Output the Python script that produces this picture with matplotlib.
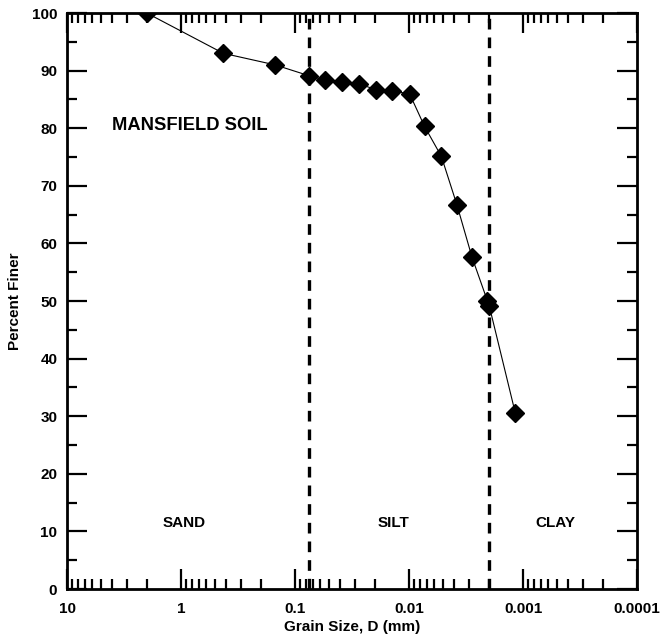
import matplotlib.pyplot as plt
from matplotlib.ticker import FixedLocator, LogLocator, NullFormatter

plt.rcParams['font.family'] = ['Liberation Sans', 'DejaVu Sans']
plt.rcParams['font.weight'] = 'bold'

# grain size distribution, Mansfield soil
grain_mm = [2.0, 0.425, 0.15, 0.075, 0.055, 0.039, 0.0275, 0.0195, 0.014, 0.0099,
            0.0073, 0.0052, 0.0038, 0.0028, 0.00205, 0.00198, 0.00117]
pct_finer = [100, 93.0, 91.0, 89.1, 88.4, 88.1, 87.7, 86.7, 86.4, 86.0,
             80.3, 75.1, 66.7, 57.6, 50.0, 49.2, 30.6]

# sand/silt and silt/clay boundaries
boundaries = [0.075, 0.002]
zone_names = ['SAND', 'SILT', 'CLAY']
zone_x = [0.93, 0.0137, 0.00052]

x_ticks = [10, 1, 0.1, 0.01, 0.001, 0.0001]
x_ticklabels = ['10', '1', '0.1', '0.01', '0.001', '0.0001']

fig = plt.figure(figsize=(6.61, 6.41), dpi=100)
ax = fig.add_axes([0.1014, 0.0811, 0.8623, 0.8986])

ax.plot(grain_mm, pct_finer, color='black', linewidth=0.8, marker='D',
        markersize=9, markerfacecolor='black', markeredgecolor='black', zorder=3)

for b in boundaries:
    ax.axvline(b, color='black', linewidth=2.4, linestyle=(0, (3.2, 2.4)), zorder=2)

ax.set_xscale('log')
ax.set_xlim(10, 0.0001)
ax.set_ylim(0, 100)

ax.xaxis.set_major_locator(FixedLocator(x_ticks))
ax.set_xticklabels(x_ticklabels)
ax.xaxis.set_minor_locator(LogLocator(base=10, subs=range(2, 10), numticks=20))
ax.xaxis.set_minor_formatter(NullFormatter())
ax.set_yticks(range(0, 101, 10))
ax.set_yticks(range(5, 100, 10), minor=True)

ax.tick_params(which='both', direction='in', top=True, right=True,
               labelsize=11, width=1.6)
ax.tick_params(which='major', length=14.5)
ax.tick_params(which='minor', length=7.2)
ax.tick_params(axis='x', which='major', pad=9)
ax.tick_params(axis='y', which='major', pad=7)
for lab in ax.get_xticklabels() + ax.get_yticklabels():
    lab.set_fontweight('bold')

for s in ax.spines.values():
    s.set_linewidth(2.0)

ax.set_xlabel('Grain Size, D (mm)', fontsize=11, fontweight='bold', labelpad=3)
ax.set_ylabel('Percent Finer', fontsize=11, fontweight='bold', labelpad=7)

ax.text(0.83, 80.4, 'MANSFIELD SOIL', fontsize=13.2, fontweight='bold',
        ha='center', va='center')
for name, zx in zip(zone_names, zone_x):
    ax.text(zx, 11.5, name, fontsize=11, fontweight='bold', ha='center', va='center')

fig.savefig('out.png', dpi=100)
